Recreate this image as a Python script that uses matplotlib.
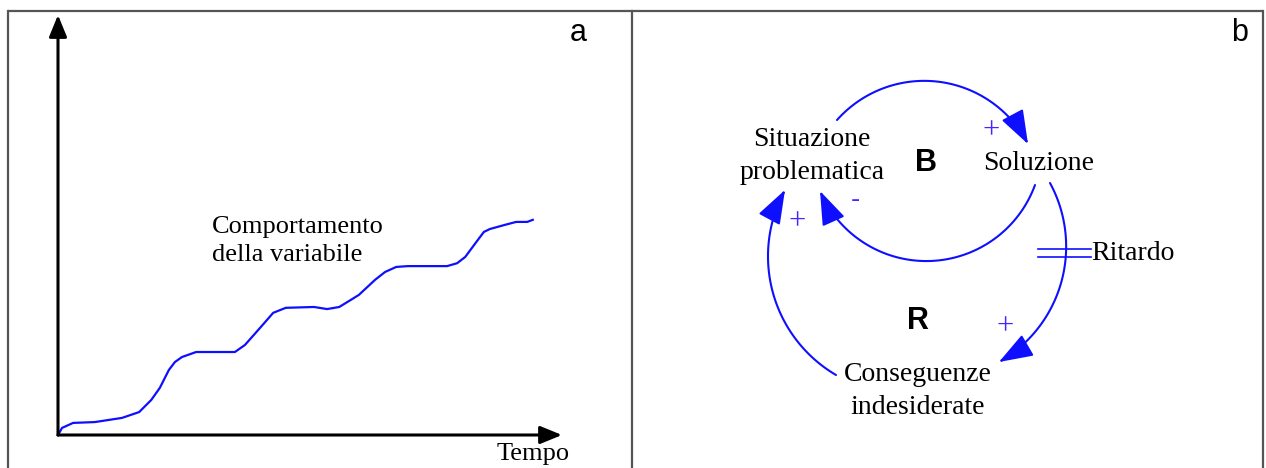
import numpy as np
import matplotlib
matplotlib.use("Agg")
import matplotlib.pyplot as plt
from matplotlib.patches import FancyArrowPatch
from matplotlib.path import Path

# ---------------- data (panel a) ----------------
tempo = [0, 0.8, 3.0, 7.3, 12.7, 16.1, 18.5, 20.2, 22.0, 23.2, 24.6, 27.4, 35.1,
         37.1, 40.1, 42.7, 45.2, 50.8, 53.4, 55.8, 58.1, 59.7, 62.9, 64.9, 67.1,
         69.4, 77.2, 79.2, 80.8, 82.7, 84.5, 85.7, 88.7, 90.9, 93.1, 94.2]
variabile = [0, 1.7, 2.9, 3.1, 4.1, 5.5, 8.4, 11.3, 15.6, 17.5, 18.7, 19.9, 19.9,
             21.6, 25.7, 29.3, 30.5, 30.7, 30.2, 30.7, 32.4, 33.6, 37.2, 39.1, 40.3,
             40.5, 40.5, 41.2, 42.7, 45.8, 48.7, 49.4, 50.4, 51.1, 51.1, 51.6]
label_curve = "Comportamento\ndella variabile"
label_x = "Tempo"

# ---------------- labels (panel b) ----------------
nodes = {"sit": "Situazione\nproblematica", "sol": "Soluzione",
         "cons": "Conseguenze\nindesiderate"}
loop_labels = ["B", "R"]
delay_label = "Ritardo"

W, H = 1266, 468
fig = plt.figure(figsize=(W / 100, H / 100), dpi=100)
bg = fig.add_axes([0, 0, 1, 1])
bg.set_xlim(0, W)
bg.set_ylim(H, 0)
bg.axis("off")

BLUE = "#0f0fff"
SERIF = ["Liberation Serif", "DejaVu Serif"]
SANS = ["Liberation Sans", "DejaVu Sans"]

# frame
border = "#555555"
bg.plot([8, 1263], [11, 11], color=border, lw=1.6, solid_capstyle="butt")
bg.plot([8, 8], [11, H], color=border, lw=1.6)
bg.plot([632, 632], [11, H], color=border, lw=1.6)
bg.plot([1263, 1263], [11, H], color=border, lw=1.6)

# ---------------- panel a ----------------
x0p, x1p, y0p, y1p = 58, 562, 435, 15
axa = fig.add_axes([x0p / W, 1 - y0p / H, (x1p - x0p) / W, (y0p - y1p) / H])
axa.set_xlim(0, 100)
axa.set_ylim(0, 100 * (y0p - y1p) / 417)
axa.axis("off")
axa.plot(tempo, variabile, color=BLUE, lw=1.6, clip_on=False,
         solid_joinstyle="round")
for xy in [(0, 1), (1, 0)]:
    axa.annotate("", xy=xy, xytext=(0, 0), xycoords="axes fraction",
                 arrowprops=dict(arrowstyle="-|>,head_length=1.1,head_width=0.45",
                                 color="black", lw=2.2, mutation_scale=12,
                                 shrinkA=0, shrinkB=0))
bg.text(212, 241, label_curve, fontsize=19, family=SERIF, ha="left", va="center",
        linespacing=1.38)
bg.text(533, 454, label_x, fontsize=19, family=SERIF, ha="center", va="center")
bg.text(578, 33, "a", fontsize=22, family=SANS, ha="center", va="center")

# ---------------- panel b ----------------
bg.text(1240, 33, "b", fontsize=22, family=SANS, ha="center", va="center")


def circle3(p1, p2, p3):
    ax_, ay = p1
    bx, by = p2
    cx, cy = p3
    d = 2 * (ax_ * (by - cy) + bx * (cy - ay) + cx * (ay - by))
    ux = ((ax_**2 + ay**2) * (by - cy) + (bx**2 + by**2) * (cy - ay) + (cx**2 + cy**2) * (ay - by)) / d
    uy = ((ax_**2 + ay**2) * (cx - bx) + (bx**2 + by**2) * (ax_ - cx) + (cx**2 + cy**2) * (bx - ax_)) / d
    return ux, uy, np.hypot(ax_ - ux, ay - uy)


def arc_arrow(p1, pm, p2):
    ux, uy, r = circle3(p1, pm, p2)
    a1 = np.arctan2(p1[1] - uy, p1[0] - ux)
    am = np.arctan2(pm[1] - uy, pm[0] - ux)
    a2 = np.arctan2(p2[1] - uy, p2[0] - ux)

    def unwrap(a, ref):
        while a < ref:
            a += 2 * np.pi
        return a
    am_u = unwrap(am, a1)
    a2_u = unwrap(a2, a1)
    if am_u <= a2_u:
        t = np.linspace(a1, a2_u, 80)
    else:
        t = np.linspace(a1, a2_u - 2 * np.pi, 80)
    pts = np.column_stack([ux + r * np.cos(t), uy + r * np.sin(t)])
    p = FancyArrowPatch(path=Path(pts), arrowstyle="-|>,head_length=2.1,head_width=0.75",
                        mutation_scale=10, color=BLUE, lw=1.5, transform=bg.transData)
    bg.add_patch(p)


arc_arrow((837, 120), (930, 81), (1028, 144))     # Situazione -> Soluzione
arc_arrow((1035, 185), (930, 261), (820, 191))    # Soluzione -> Situazione
arc_arrow((1050, 183), (1066, 253), (999, 362))   # Soluzione -> Conseguenze
arc_arrow((836, 375), (768, 256), (785, 190))     # Conseguenze -> Situazione

# delay marks
bg.plot([1038, 1091], [249, 249], color=BLUE, lw=1.2)
bg.plot([1038, 1091], [257, 257], color=BLUE, lw=1.2)

bg.text(812, 156, nodes["sit"], fontsize=20, family=SERIF, ha="center", va="center",
        linespacing=1.45)
bg.text(1039, 163, nodes["sol"], fontsize=20, family=SERIF, ha="center", va="center")
bg.text(918, 391, nodes["cons"], fontsize=20, family=SERIF, ha="center", va="center",
        linespacing=1.45)
bg.text(1091, 254, delay_label, fontsize=20, family=SERIF, ha="left", va="center")
bg.text(926, 163, loop_labels[0], fontsize=22, family=SANS, weight="bold",
        ha="center", va="center")
bg.text(918, 321, loop_labels[1], fontsize=22, family=SANS, weight="bold",
        ha="center", va="center")

SIGN = "#4a22ff"
bg.text(991, 131, "+", fontsize=22, family=SERIF, color=SIGN, ha="center", va="center")
bg.text(855, 200, "-", fontsize=20, family=SANS, color=SIGN, ha="center", va="center")
bg.text(797, 222, "+", fontsize=22, family=SERIF, color=SIGN, ha="center", va="center")
bg.text(1005, 327, "+", fontsize=22, family=SERIF, color=SIGN, ha="center", va="center")

fig.savefig("out.png", dpi=100)
